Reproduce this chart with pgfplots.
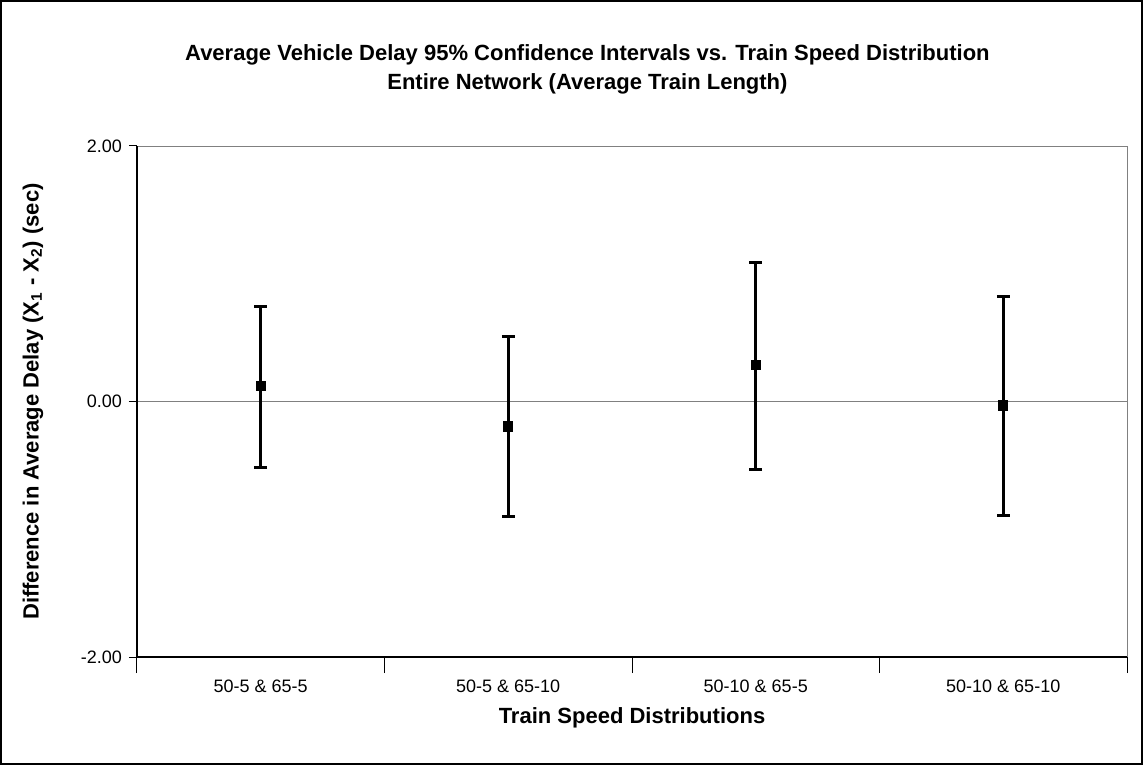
\documentclass[border=0pt]{standalone}
\usepackage{pgfplots}
\pgfplotsset{compat=1.18}
\usepackage{fontspec}
\setmainfont{Liberation Sans}
\begin{document}
\begin{tikzpicture}
\begin{axis}[
  name=ax,
  scale only axis,
  width=495pt, height=255.5pt,
  xmin=0.5, xmax=4.5, ymin=-2, ymax=2,
  axis line style={draw=gray},
  xtick={1,2,3,4},
  xticklabels={50-5 \& 65-5, 50-5 \& 65-10, 50-10 \& 65-5, 50-10 \& 65-10},
  x tick style={draw=none},
  xticklabel style={font=\fontsize{9}{10}\selectfont, yshift=-4pt},
  extra x ticks={0.5,1.5,2.5,3.5,4.5},
  extra x tick labels={},
  extra x tick style={x tick style={draw=black, line width=0.5pt}, major tick length=8pt, tick align=outside},
  ytick={-2,0,2},
  y tick style={black, line width=0.5pt},
  major tick length=4pt,
  tick align=outside,
  tick pos=left,
  yticklabel style={font=\fontsize{9}{10}\selectfont},
  /pgf/number format/assume math mode=true,
  /pgf/number format/fixed,
  /pgf/number format/fixed zerofill,
  /pgf/number format/precision=2,
  extra y ticks={0},
  extra y tick labels={},
  extra y tick style={grid=major, major grid style={gray, line width=0.8pt}},
  xlabel={Train Speed Distributions},
  xlabel style={at={(axis description cs:0.5,-0.119)}, anchor=center, font=\bfseries\fontsize{11}{13}\selectfont},
  ylabel={Difference in Average Delay (X\textsubscript{1} - X\textsubscript{2}) (sec)},
  ylabel style={at={(axis description cs:-0.105,0.5)}, anchor=center, font=\bfseries\fontsize{11}{13}\selectfont},
  clip=false,
]
\addplot [black, line width=1.5pt, mark=square*, mark size=1.8pt, only marks,
  error bars/.cd, y dir=both, y explicit,
  error bar style={line width=1.4pt, black},
  error mark options={rotate=90, mark size=3.2pt, line width=1.4pt, black}]
  table [x=x, y=y, y error plus=ep, y error minus=em] {
x y ep em
1 0.120 0.625 0.637
2 -0.195 0.706 0.705
3 0.288 0.797 0.823
4 -0.031 0.856 0.863
};
\node[align=center, font=\bfseries\fontsize{11}{14.5}\selectfont] at (axis description cs:0.455,1.149)
  {Average Vehicle Delay 95\% Confidence Intervals vs. Train Speed Distribution\\Entire Network (Average Train Length)};
\end{axis}
\draw[black, line width=0.6pt] (ax.south west) -- (ax.north west);
\draw[black, line width=0.6pt] (ax.south west) -- (ax.south east);
\draw[black, line width=0.8pt] ([shift={(-68.1pt,-53.6pt)}]ax.south west) rectangle ([shift={(7.6pt,72.6pt)}]ax.north east);
\end{tikzpicture}
\end{document}
